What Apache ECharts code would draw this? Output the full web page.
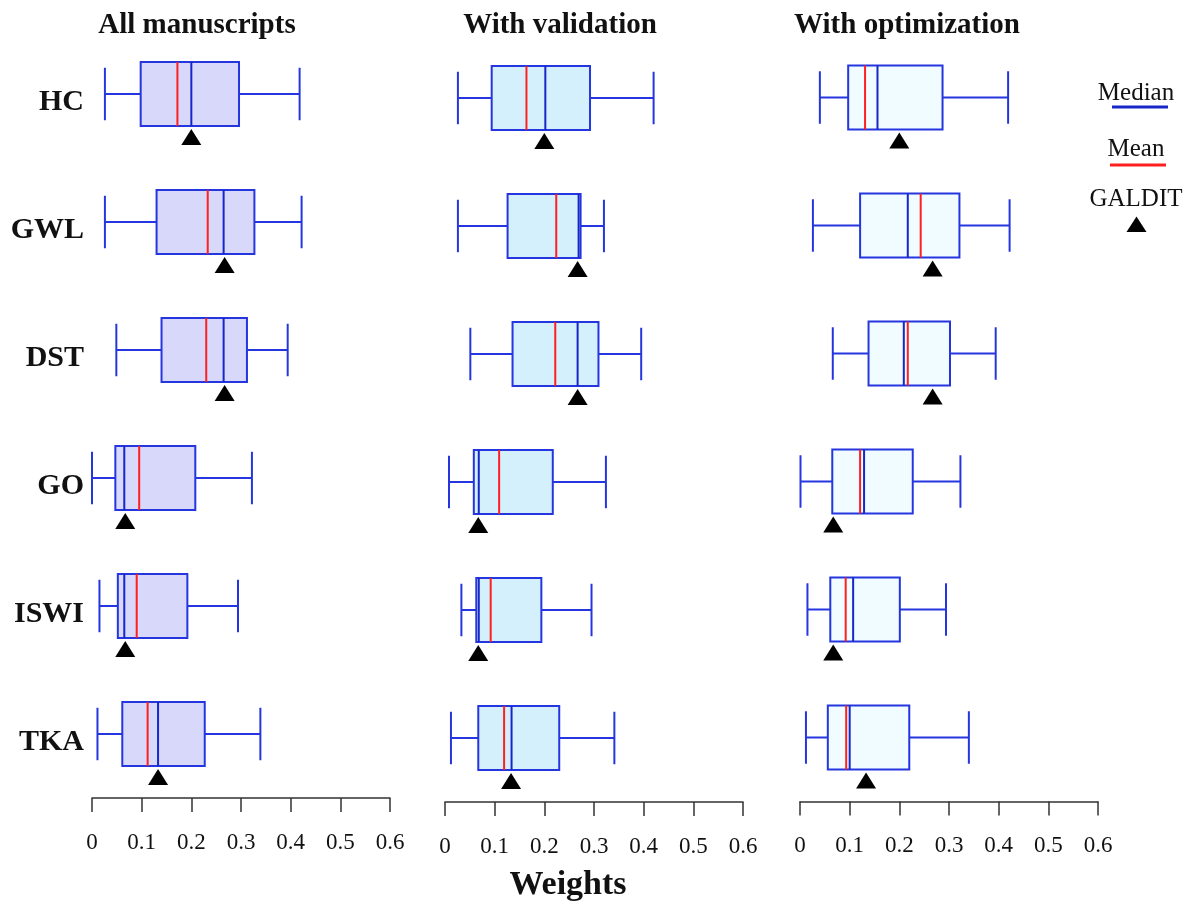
<!DOCTYPE html>
<html>
<head>
<meta charset="utf-8">
<title>Weights boxplots</title>
<script src="https://cdn.jsdelivr.net/npm/echarts@6/dist/echarts.min.js"></script>
<style>
  html, body { margin: 0; padding: 0; background: #fff; }
  #main { width: 1192px; height: 907px; }
</style>
</head>
<body>
<div id="main"></div>
<script>
// categories (top to bottom)
var categories = ['HC', 'GWL', 'DST', 'GO', 'ISWI', 'TKA'];
var panelTitles = ['All manuscripts', 'With validation', 'With optimization'];
var xTickLabels = ['0', '0.1', '0.2', '0.3', '0.4', '0.5', '0.6'];

// each row: [min, Q1, median, Q3, max]
var allBoxes = [
  [0.026, 0.098, 0.200, 0.296, 0.418],
  [0.026, 0.130, 0.265, 0.327, 0.422],
  [0.049, 0.140, 0.265, 0.312, 0.394],
  [0.000, 0.047, 0.065, 0.208, 0.322],
  [0.015, 0.052, 0.065, 0.192, 0.294],
  [0.011, 0.061, 0.133, 0.227, 0.339]
];
var allMeans = [0.172, 0.233, 0.230, 0.095, 0.090, 0.112];

var validBoxes = [
  [0.026, 0.094, 0.202, 0.292, 0.420],
  [0.026, 0.126, 0.269, 0.273, 0.320],
  [0.051, 0.136, 0.267, 0.309, 0.395],
  [0.008, 0.058, 0.068, 0.217, 0.324],
  [0.033, 0.063, 0.068, 0.194, 0.295],
  [0.012, 0.067, 0.134, 0.230, 0.341]
];
var validMeans = [0.164, 0.224, 0.222, 0.109, 0.092, 0.119];

var optBoxes = [
  [0.040, 0.097, 0.156, 0.287, 0.419],
  [0.026, 0.121, 0.217, 0.321, 0.422],
  [0.066, 0.138, 0.209, 0.302, 0.394],
  [0.001, 0.065, 0.129, 0.227, 0.323],
  [0.015, 0.061, 0.107, 0.201, 0.294],
  [0.012, 0.056, 0.100, 0.220, 0.340]
];
var optMeans = [0.131, 0.243, 0.217, 0.121, 0.092, 0.093];

// GALDIT reference weights
var galdit = [0.200, 0.267, 0.267, 0.067, 0.067, 0.133];

var FONT = 'Liberation Serif';
var BLUE = '#2536e0';
var MEDIAN_BLUE = '#1626c8';
var RED = '#ff1f1f';

var panels = [
  { boxes: allBoxes, means: allMeans, fill: '#d8d8fb', grid: { left: 92, top: 30, width: 298, height: 768 } },
  { boxes: validBoxes, means: validMeans, fill: '#d4f0fc', grid: { left: 445, top: 34, width: 298, height: 768 } },
  { boxes: optBoxes, means: optMeans, fill: '#f0fcff', grid: { left: 800, top: 33.5, width: 298, height: 768 } }
];

function makeRender(fill) {
  return function (params, api) {
    var cat = api.value(0);
    var lo = api.coord([api.value(1), cat]);
    var q1 = api.coord([api.value(2), cat]);
    var med = api.coord([api.value(3), cat]);
    var q3 = api.coord([api.value(4), cat]);
    var hi = api.coord([api.value(5), cat]);
    var mean = api.coord([api.value(6), cat]);
    var band = api.size([0, 1])[1];
    var bh = band * 0.5 / 2;
    var ch = band * 0.41 / 2;
    var y = lo[1];
    var ln = function (x1, y1, x2, y2, color, w) {
      return { type: 'line', shape: { x1: x1, y1: y1, x2: x2, y2: y2 }, style: { stroke: color, lineWidth: w } };
    };
    return {
      type: 'group',
      children: [
        ln(lo[0], y, q1[0], y, BLUE, 2),
        ln(q3[0], y, hi[0], y, BLUE, 2),
        ln(lo[0], y - ch, lo[0], y + ch, BLUE, 2),
        ln(hi[0], y - ch, hi[0], y + ch, BLUE, 2),
        { type: 'rect', shape: { x: q1[0], y: y - bh, width: q3[0] - q1[0], height: bh * 2 },
          style: { fill: fill, stroke: BLUE, lineWidth: 2 } },
        ln(mean[0], y - bh, mean[0], y + bh, RED, 2),
        ln(med[0], y - bh, med[0], y + bh, MEDIAN_BLUE, 2)
      ]
    };
  };
}

var grids = [], xAxes = [], yAxes = [], series = [];
panels.forEach(function (p, k) {
  grids.push(p.grid);
  xAxes.push({
    type: 'value', gridIndex: k, min: 0, max: 0.6, interval: 0.1,
    axisLine: { show: true, lineStyle: { color: '#333', width: 1.5 } },
    axisTick: { show: true, length: 14, lineStyle: { color: '#333', width: 1.5 } },
    splitLine: { show: false },
    axisLabel: {
      margin: 33, fontFamily: FONT, fontSize: 23, color: '#111',
      formatter: function (v) { return xTickLabels[Math.round(v * 10)]; }
    }
  });
  yAxes.push({
    type: 'category', gridIndex: k, data: categories, inverse: true,
    axisLine: { show: false }, axisTick: { show: false }, splitLine: { show: false },
    axisLabel: {
      show: k === 0, margin: 8,
      formatter: function (v) { return '{c|' + v + '}'; },
      rich: {
        c: { fontFamily: FONT, fontSize: 30, fontWeight: 'bold', color: '#111', padding: [16, 0, 0, 0] }
      }
    }
  });
  series.push({
    type: 'custom', xAxisIndex: k, yAxisIndex: k,
    renderItem: makeRender(p.fill),
    encode: { x: [1, 2, 3, 4, 5, 6], y: 0 },
    data: p.boxes.map(function (b, i) { return [i].concat(b, [p.means[i]]); }),
    z: 2
  });
  series.push({
    type: 'scatter', xAxisIndex: k, yAxisIndex: k,
    symbol: 'triangle', symbolSize: [20, 16], symbolOffset: [0, 43],
    itemStyle: { color: '#000', opacity: 1 },
    data: galdit.map(function (g, i) { return [g, i]; }),
    z: 3
  });
});

var titleX = [197, 560, 907];
var graphics = panelTitles.map(function (t, k) {
  return {
    type: 'text', x: titleX[k], y: 26,
    style: { text: t, font: 'bold 29px "' + FONT + '"', fill: '#111', textAlign: 'center', textVerticalAlign: 'middle' }
  };
});
graphics.push(
  { type: 'text', x: 568, y: 885,
    style: { text: 'Weights', font: 'bold 34px "' + FONT + '"', fill: '#111', textAlign: 'center', textVerticalAlign: 'middle' } },
  // legend key
  { type: 'text', x: 1136, y: 93,
    style: { text: 'Median', font: '25px "' + FONT + '"', fill: '#111', textAlign: 'center', textVerticalAlign: 'middle' } },
  { type: 'line', shape: { x1: 1112, y1: 107, x2: 1168, y2: 107 }, style: { stroke: MEDIAN_BLUE, lineWidth: 3 } },
  { type: 'text', x: 1136, y: 149,
    style: { text: 'Mean', font: '25px "' + FONT + '"', fill: '#111', textAlign: 'center', textVerticalAlign: 'middle' } },
  { type: 'line', shape: { x1: 1110, y1: 165, x2: 1166, y2: 165 }, style: { stroke: RED, lineWidth: 3 } },
  { type: 'text', x: 1136, y: 199,
    style: { text: 'GALDIT', font: '25px "' + FONT + '"', fill: '#111', textAlign: 'center', textVerticalAlign: 'middle' } },
  { type: 'polygon', shape: { points: [[1136.5, 216.5], [1126.5, 232], [1146.5, 232]] }, style: { fill: '#000' } }
);

var myChart = echarts.init(document.getElementById('main'), null, { renderer: 'canvas' });
myChart.setOption({
  animation: false,
  backgroundColor: '#fff',
  grid: grids,
  xAxis: xAxes,
  yAxis: yAxes,
  series: series,
  graphic: graphics
});
</script>
</body>
</html>
